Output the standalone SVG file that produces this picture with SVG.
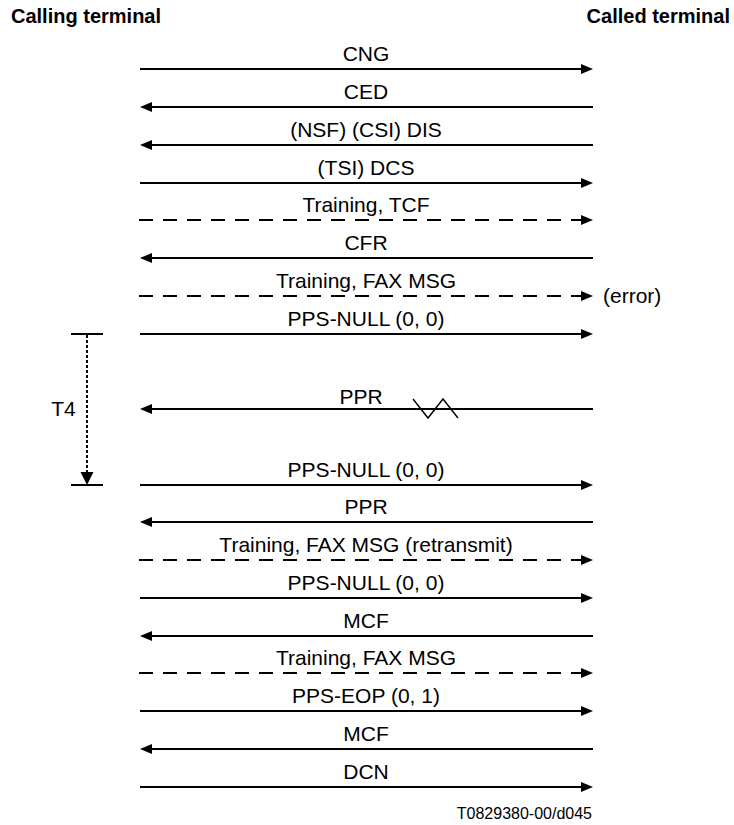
<svg xmlns="http://www.w3.org/2000/svg" width="734" height="825" viewBox="0 0 734 825">
<style>
text{font-family:"Liberation Sans",Arial,sans-serif;fill:#000}
.hdr{font-size:20px;font-weight:bold}
.lbl{font-size:21px;text-anchor:middle}
.ln{stroke:#000;stroke-width:2;fill:none}
.ds{stroke-dasharray:14 10}
.zz{stroke:#000;stroke-width:1.4;fill:none}
</style>
<defs>
<marker id="ah" markerUnits="userSpaceOnUse" markerWidth="12" markerHeight="10" refX="0" refY="5" orient="auto" overflow="visible">
<path d="M0,0 L12,5 L0,10 z" fill="#000"/>
</marker>
<marker id="ahT" markerUnits="userSpaceOnUse" markerWidth="13" markerHeight="13" refX="0" refY="6.5" orient="auto" overflow="visible">
<path d="M0,0 L13,6.5 L0,13 z" fill="#000"/>
</marker>
</defs>
<rect width="734" height="825" fill="#fff"/>
<g id="calling"><text class="hdr" x="11" y="23">Calling terminal</text></g>
<g id="called"><text class="hdr" x="730" y="23" text-anchor="end">Called terminal</text></g>
<g id="connectors">
<line class="ln" x1="140" y1="69" x2="581" y2="69" marker-end="url(#ah)"/>
<line class="ln" x1="593" y1="107" x2="152" y2="107" marker-end="url(#ah)"/>
<line class="ln" x1="593" y1="145" x2="152" y2="145" marker-end="url(#ah)"/>
<line class="ln" x1="140" y1="183" x2="581" y2="183" marker-end="url(#ah)"/>
<line class="ln ds" x1="139" y1="220" x2="581" y2="220" marker-end="url(#ah)"/>
<line class="ln" x1="593" y1="258" x2="152" y2="258" marker-end="url(#ah)"/>
<line class="ln ds" x1="139" y1="296" x2="581" y2="296" marker-end="url(#ah)"/>
<line class="ln" x1="140" y1="334" x2="581" y2="334" marker-end="url(#ah)"/>
<line class="ln" x1="593" y1="409" x2="152" y2="409" marker-end="url(#ah)"/>
<polyline class="zz" points="413,399 428,418 443,399 458,418"/>
<line class="ln" x1="140" y1="485" x2="581" y2="485" marker-end="url(#ah)"/>
<line class="ln" x1="593" y1="522" x2="152" y2="522" marker-end="url(#ah)"/>
<line class="ln ds" x1="139" y1="560" x2="581" y2="560" marker-end="url(#ah)"/>
<line class="ln" x1="140" y1="598" x2="581" y2="598" marker-end="url(#ah)"/>
<line class="ln" x1="593" y1="636" x2="152" y2="636" marker-end="url(#ah)"/>
<line class="ln ds" x1="139" y1="673" x2="581" y2="673" marker-end="url(#ah)"/>
<line class="ln" x1="140" y1="711" x2="581" y2="711" marker-end="url(#ah)"/>
<line class="ln" x1="593" y1="749" x2="152" y2="749" marker-end="url(#ah)"/>
<line class="ln" x1="140" y1="787" x2="581" y2="787" marker-end="url(#ah)"/>
</g>
<g id="labels">
<text class="lbl" x="366" y="61">CNG</text>
<text class="lbl" x="366" y="99">CED</text>
<text class="lbl" x="366" y="137">(NSF) (CSI) DIS</text>
<text class="lbl" x="366" y="175">(TSI) DCS</text>
<text class="lbl" x="366" y="212">Training, TCF</text>
<text class="lbl" x="366" y="250">CFR</text>
<text class="lbl" x="366" y="288">Training, FAX MSG</text>
<text x="603" y="303" style="font-size:21px">(error)</text>
<text class="lbl" x="366" y="326">PPS-NULL (0, 0)</text>
<text class="lbl" x="361" y="404">PPR</text>
<text class="lbl" x="366" y="477">PPS-NULL (0, 0)</text>
<text class="lbl" x="366" y="514">PPR</text>
<text class="lbl" x="366" y="552">Training, FAX MSG (retransmit)</text>
<text class="lbl" x="366" y="590">PPS-NULL (0, 0)</text>
<text class="lbl" x="366" y="628">MCF</text>
<text class="lbl" x="366" y="665">Training, FAX MSG</text>
<text class="lbl" x="366" y="703">PPS-EOP (0, 1)</text>
<text class="lbl" x="366" y="741">MCF</text>
<text class="lbl" x="366" y="779">DCN</text>
</g>
<g id="timer-T4">
<line class="ln" x1="71" y1="334" x2="103" y2="334"/>
<line class="ln" x1="71" y1="485" x2="103" y2="485"/>
<line x1="87" y1="335" x2="87" y2="472" stroke="#000" stroke-width="2" stroke-dasharray="3 2" marker-end="url(#ahT)"/>
<text x="63.5" y="416" style="font-size:21px;text-anchor:middle">T4</text>
</g>
<text x="592" y="819" style="font-size:16px;text-anchor:end">T0829380-00/d045</text>
</svg>
